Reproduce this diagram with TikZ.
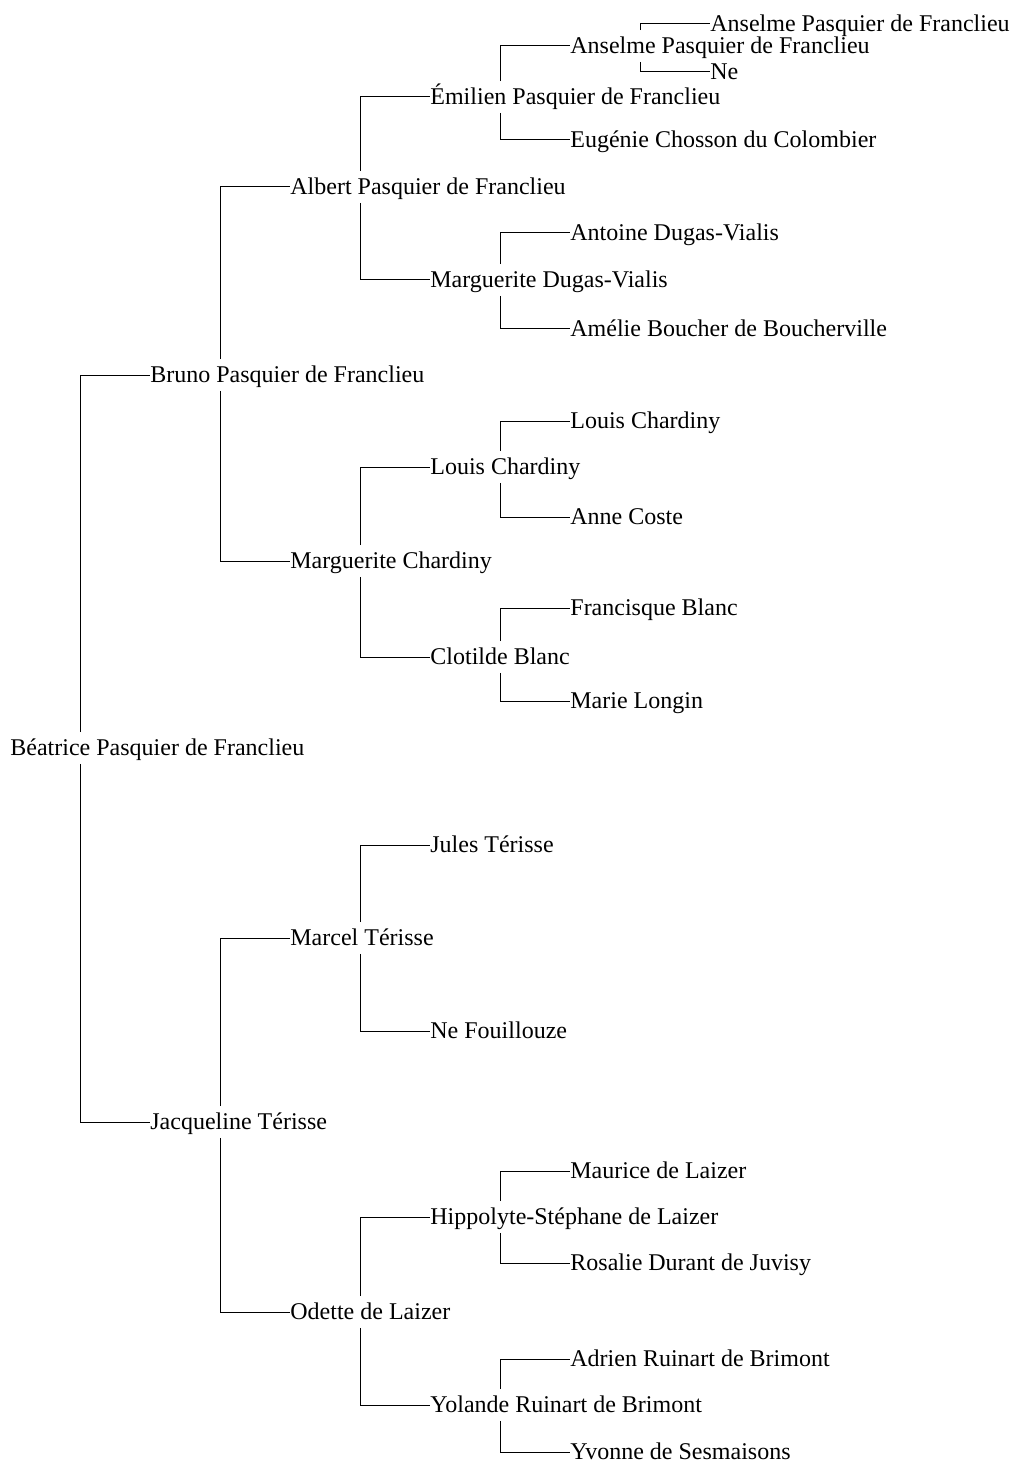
\documentclass[tikz,border=0pt]{standalone}
\usepackage{fontspec}
\setmainfont{Liberation Serif}

\begin{document}
\begin{tikzpicture}[x=0.5pt, y=-0.5pt,
    person/.style={anchor=west, inner xsep=0pt, inner ysep=2pt,
      text height=9.5pt, text depth=2pt, font=\fontsize{12}{14}\selectfont},
    link/.style={line width=0.5pt}]
  \useasboundingbox (0,0) rectangle (1012,1465);

  \node[person] (beatrice) at (10,748) {Béatrice Pasquier de Franclieu};

  \node[person] (bruno) at (150,375) {Bruno Pasquier de Franclieu};
  \node[person] (jacqueline) at (150,1122) {Jacqueline Térisse};

  \node[person] (albert) at (290,187) {Albert Pasquier de Franclieu};
  \node[person] (margch) at (290,561) {Marguerite Chardiny};
  \node[person] (marcel) at (290,938) {Marcel Térisse};
  \node[person] (odette) at (290,1312) {Odette de Laizer};

  \node[person] (emilien) at (430,97) {Émilien Pasquier de Franclieu};
  \node[person] (margdv) at (430,280) {Marguerite Dugas-Vialis};
  \node[person] (louisb) at (430,467) {Louis Chardiny};
  \node[person] (clotilde) at (430,657) {Clotilde Blanc};
  \node[person] (jules) at (430,845) {Jules Térisse};
  \node[person] (fouillouze) at (430,1031) {Ne Fouillouze};
  \node[person] (hippolyte) at (430,1217) {Hippolyte-Stéphane de Laizer};
  \node[person] (yolande) at (430,1405) {Yolande Ruinart de Brimont};

  \node[person] (anselmeb) at (570,46) {Anselme Pasquier de Franclieu};
  \node[person] (eugenie) at (570,140) {Eugénie Chosson du Colombier};
  \node[person] (antoine) at (570,233) {Antoine Dugas-Vialis};
  \node[person] (amelie) at (570,329) {Amélie Boucher de Boucherville};
  \node[person] (louisc) at (570,421) {Louis Chardiny};
  \node[person] (anne) at (570,517) {Anne Coste};
  \node[person] (francisque) at (570,608) {Francisque Blanc};
  \node[person] (marie) at (570,701) {Marie Longin};
  \node[person] (maurice) at (570,1171) {Maurice de Laizer};
  \node[person] (rosalie) at (570,1263) {Rosalie Durant de Juvisy};
  \node[person] (adrien) at (570,1359) {Adrien Ruinart de Brimont};
  \node[person] (yvonne) at (570,1452) {Yvonne de Sesmaisons};

  \node[person] (anselmec) at (710,24) {Anselme Pasquier de Franclieu};
  \node[person] (ne) at (710,72) {Ne};

  % father above, mother below
  \foreach \p/\f/\m in {beatrice/bruno/jacqueline, bruno/albert/margch,
      jacqueline/marcel/odette, albert/emilien/margdv, margch/louisb/clotilde,
      marcel/jules/fouillouze, odette/hippolyte/yolande,
      emilien/anselmeb/eugenie, margdv/antoine/amelie, louisb/louisc/anne,
      clotilde/francisque/marie, hippolyte/maurice/rosalie,
      yolande/adrien/yvonne, anselmeb/anselmec/ne} {
    \draw[link] (\p.north west) ++(70,0) |- (\f.west);
    \draw[link] (\p.south west) ++(70,0) |- (\m.west);
  }
\end{tikzpicture}
\end{document}
